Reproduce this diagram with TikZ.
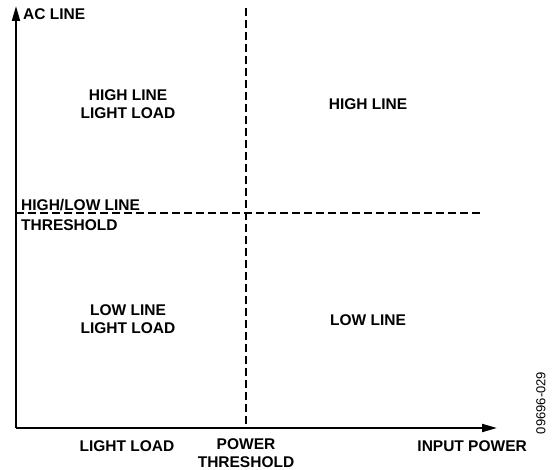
\documentclass[tikz,border=0pt]{standalone}
\usepackage{fontspec}
\setmainfont{Liberation Sans}
\usetikzlibrary{arrows.meta}
\begin{document}
\begin{tikzpicture}[x=1pt,y=-1pt,
  axis/.style={line width=2pt,-{Triangle[length=15pt,width=8pt]}},
  divider/.style={line width=1.3pt,dash pattern=on 8pt off 4pt},
  lbl/.style={font=\fontsize{15.5}{18}\selectfont\bfseries,inner sep=0pt,align=center},
  code/.style={font=\fontsize{13}{15}\selectfont,inner sep=0pt,rotate=90}]
\useasboundingbox (0,0) rectangle (553,470);
\coordinate (o) at (16,428);
\coordinate (ytop) at (16,6);
\coordinate (xend) at (497,428);
\coordinate (vtop) at (246,8);
\coordinate (vbot) at (246,428);
\coordinate (hl) at (16,213);
\coordinate (hr) at (480,213);
\draw[divider] (vtop) -- (vbot);
\draw[divider] (hl) -- (hr);
\draw[axis] (o) -- (ytop);
\draw[axis] (o) -- (xend);
\node[lbl,anchor=west] (acline) at (23,14) {AC LINE};
\node[lbl] (hlll) at (128,104) {HIGH LINE\\LIGHT LOAD};
\node[lbl] (hline) at (368,104) {HIGH LINE};
\node[lbl,anchor=west] (hlthr1) at (21,205) {HIGH/LOW LINE};
\node[lbl,anchor=west] (hlthr2) at (21,225) {THRESHOLD};
\node[lbl] (llll) at (128,319) {LOW LINE\\LIGHT LOAD};
\node[lbl] (lline) at (368,320) {LOW LINE};
\node[lbl] (ll) at (127,446) {LIGHT LOAD};
\node[lbl] (pt) at (246,453) {POWER\\THRESHOLD};
\node[lbl,anchor=east] (ip) at (527,446) {INPUT POWER};
\node[code] (id) at (541,403) {09696-029};
\end{tikzpicture}
\end{document}
